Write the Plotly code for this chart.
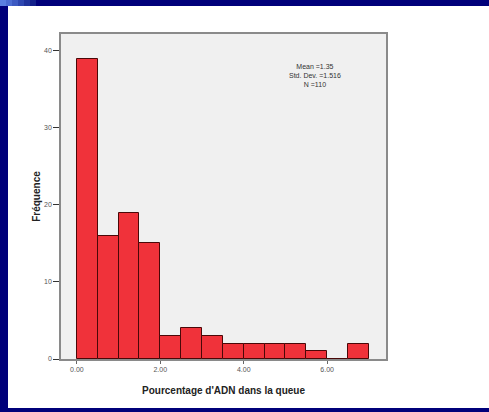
import plotly.graph_objects as go

# ---- data ----
bin_starts = [0.0, 0.5, 1.0, 1.5, 2.0, 2.5, 3.0, 3.5, 4.0, 4.5, 5.0, 5.5, 6.0, 6.5]
counts = [39, 16, 19, 15, 3, 4, 3, 2, 2, 2, 2, 1, 0, 2]
bin_width = 0.5
x_ticks = [0, 2, 4, 6]
x_tick_labels = ["0.00", "2.00", "4.00", "6.00"]
y_ticks = [0, 10, 20, 30, 40]
stats_text = "Mean =1.35<br>Std. Dev. =1.516<br>N =110"
x_title = "Pourcentage d'ADN dans la queue"
y_title = "Fréquence"

W, H = 489, 412
L, R, T, B = 61, 103, 34, 53
pw, ph = W - L - R, H - T - B

def px(x):
    return (x - L) / pw

def py(y):
    return (H - B - y) / ph

centers = [s + bin_width / 2 for s in bin_starts]

fig = go.Figure()
fig.add_trace(go.Bar(
    x=centers, y=counts, width=[bin_width] * len(counts),
    marker=dict(color="#f0323a", line=dict(color="#4a0808", width=1)),
    hoverinfo="x+y",
))

navy = "#00007a"
shapes = []
# blue frame
shapes.append(dict(type="rect", xref="paper", yref="paper", x0=px(0), x1=px(W), y0=py(0), y1=py(6),
                   fillcolor=navy, line=dict(width=0), layer="above"))
shapes.append(dict(type="rect", xref="paper", yref="paper", x0=px(0), x1=px(8), y0=py(0), y1=py(H),
                   fillcolor=navy, line=dict(width=0), layer="above"))
shapes.append(dict(type="rect", xref="paper", yref="paper", x0=px(0), x1=px(W), y0=py(408), y1=py(H),
                   fillcolor=navy, line=dict(width=0), layer="above"))
# gradient in top band
grad = ["#5a7fe0", "#4b6cd2", "#3c59c2", "#2d46b0", "#1f339c", "#12208a"]
for i, c in enumerate(grad):
    shapes.append(dict(type="rect", xref="paper", yref="paper", x0=px(i * 6), x1=px(i * 6 + 6),
                       y0=py(0), y1=py(6), fillcolor=c, line=dict(width=0), layer="above"))

fig.update_layout(
    width=W, height=H,
    margin=dict(l=L, r=R, t=T, b=B, pad=0),
    paper_bgcolor="white",
    plot_bgcolor="#f0f0f0",
    showlegend=False,
    bargap=0,
    font=dict(family="Liberation Sans, Arial, sans-serif", color="#444"),
    shapes=shapes,
    xaxis=dict(
        range=[-0.38, 7.41], tickvals=x_ticks, ticktext=x_tick_labels,
        tickfont=dict(size=7, color="#555"), ticks="outside", ticklen=3, tickcolor="#666",
        showgrid=False, zeroline=False, showline=True, linecolor="#8a8a8a", linewidth=1.5, mirror=True,
        title=dict(text="<b>" + x_title + "</b>", font=dict(size=10, color="#222"), standoff=15),
    ),
    yaxis=dict(
        range=[0, 42.2], tickvals=y_ticks,
        tickfont=dict(size=7, color="#555"), ticks="outside", ticklen=6, tickcolor="#333",
        showgrid=False, zeroline=False, showline=True, linecolor="#8a8a8a", linewidth=1.5, mirror=True,
        title=dict(text="<b>" + y_title + "</b>", font=dict(size=10, color="#222"), standoff=2),
    ),
    annotations=[dict(
        x=5.71, y=36.8, xref="x", yref="y", text=stats_text, showarrow=False,
        font=dict(size=7, color="#333"), align="center",
    )],
)

fig.write_html(
    "out.html",
    config={"displayModeBar": False},
    post_script="document.body.style.margin='0';document.body.style.overflow='hidden';",
)
